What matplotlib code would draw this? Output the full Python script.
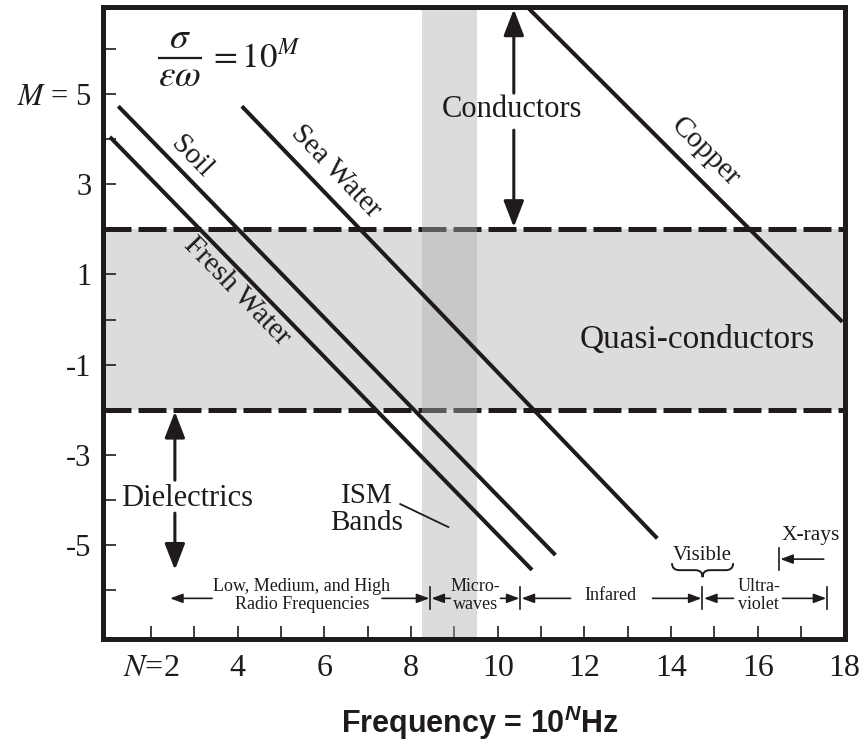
import math
import matplotlib
matplotlib.use("Agg")
import matplotlib.pyplot as plt
from matplotlib.path import Path
from matplotlib.patches import PathPatch

plt.rcParams['font.family'] = ['Liberation Serif', 'DejaVu Serif']
plt.rcParams['mathtext.fontset'] = 'stix'
plt.rcParams['mathtext.rm'] = 'Liberation Sans:bold'
plt.rcParams['mathtext.it'] = 'Liberation Sans:italic:bold'
plt.rcParams['mathtext.bf'] = 'Liberation Sans:bold'
try:
    plt.rcParams['mathtext.bfit'] = 'Liberation Sans:italic:bold'
except KeyError:
    pass

INK = '#1f1b1c'
BAND_GRAY = '#dcdcdc'

# ---------------- data ----------------
materials = ['Fresh Water', 'Soil', 'Sea Water', 'Copper']
n_start = [1.05, 1.245, 4.095, 10.68]
m_start = [4.05, 4.73, 4.73, 6.93]
n_end = [10.79, 11.33, 13.68, 17.95]
m_end = [-5.55, -5.22, -4.85, -0.05]
label_n = [3.99, 2.935, 6.25, 14.79]
label_m = [0.62, 3.61, 3.29, 3.72]

quasi_bounds = [-2.0, 2.0]
ism_band = [8.25, 9.52]

x_limits = [0.88, 18.0]
y_limits = [-7.07, 6.93]
x_ticks = list(range(2, 19))
x_tick_labels = ['$N$=2', '', '4', '', '6', '', '8', '', '10', '', '12', '', '14', '', '16', '', '18']
y_ticks = list(range(-6, 7))
y_tick_labels = ['', '-5', '', '-3', '', '-1', '', '1', '', '3', '', '$M$ = 5', '']

region_names = ['Low, Medium, and High\nRadio Frequencies', 'Micro-\nwaves', 'Infared', 'Ultra-\nviolet']
region_text_n = [5.48, 9.48, 12.6, 16.02]
region_left_tail = [3.41, 8.905, 11.68, 15.44]
region_left_tip = [2.44, 8.47, 10.55, 14.76]
region_right_tail = [7.33, 10.06, 13.57, 16.57]
region_right_tip = [8.42, 10.50, 14.70, 17.58]
region_bars = [8.44, 10.52, 14.72, 17.60]
region_m = -6.18
region_text_m = -6.12

# ---------------- figure ----------------
fig = plt.figure(figsize=(8.64, 7.47), dpi=100)
ax = fig.add_axes([102.5 / 864, 1 - 638.5 / 747, (844.5 - 102.5) / 864, (638.5 - 7) / 747])
ax.set_xlim(*x_limits)
ax.set_ylim(*y_limits)

# quasi-conductor band
ax.axhspan(quasi_bounds[0], quasi_bounds[1], color=BAND_GRAY, lw=0, zorder=1)
for b in quasi_bounds:
    ax.axhline(b, color=INK, lw=3.6, ls=(0, (5.6, 1.4)), zorder=2)
# ISM vertical band (semi-transparent)
ax.axvspan(ism_band[0], ism_band[1], color='#aeaeae', alpha=0.43, lw=0, zorder=3)

# material lines and labels
for name, n0, m0, n1, m1, ln, lm in zip(materials, n_start, m_start, n_end, m_end, label_n, label_m):
    ax.plot([n0, n1], [m0, m1], color=INK, lw=2.9, solid_capstyle='butt', zorder=4)
    p0 = ax.transData.transform((n0, m0))
    p1 = ax.transData.transform((n1, m1))
    ang = math.degrees(math.atan2(p1[1] - p0[1], p1[0] - p0[0]))
    ax.text(ln, lm, name, rotation=ang, rotation_mode='anchor', ha='center', va='center',
            fontsize=21, color=INK, zorder=6)


def arrow(tail, tip, lw, hl, hw):
    ax.annotate('', xy=tip, xytext=tail,
                arrowprops=dict(arrowstyle=f'-|>,head_length={hl},head_width={hw}', lw=lw,
                                color=INK, shrinkA=0, shrinkB=0, mutation_scale=10),
                annotation_clip=False, zorder=6)


# Conductors
ax.text(10.33, 4.65, 'Conductors', ha='center', va='center', fontsize=22, color=INK, zorder=6)
arrow((10.37, 5.02), (10.37, 6.88), 2.2, 1.6, 0.62)
arrow((10.37, 4.20), (10.37, 2.05), 2.2, 1.6, 0.62)

# Dielectrics
ax.text(2.82, -3.96, 'Dielectrics', ha='center', va='center', fontsize=22, color=INK, zorder=6)
arrow((2.55, -3.56), (2.55, -2.04), 2.2, 1.6, 0.62)
arrow((2.55, -4.29), (2.55, -5.55), 2.2, 1.6, 0.62)

# Quasi-conductors
ax.text(14.6, -0.45, 'Quasi-conductors', ha='center', va='center', fontsize=24, color=INK, zorder=6)

# ISM bands label with leader
ax.text(6.98, -4.2, 'ISM\nBands', ha='center', va='center', fontsize=21, color=INK,
        linespacing=1.05, zorder=6)
ax.plot([7.75, 8.86], [-4.09, -4.60], color=INK, lw=1.3, zorder=6)

# formula: sigma / (epsilon omega) = 10^M
ax.text(2.67, 5.85, r'$\sigma$', ha='center', va='bottom', fontsize=27, color=INK, zorder=6)
ax.plot([2.17, 3.17], [5.81, 5.81], color=INK, lw=1.6, solid_capstyle='butt', zorder=6)
ax.text(2.67, 5.77, r'$\varepsilon\omega$', ha='center', va='top', fontsize=27, color=INK, zorder=6)
ax.text(3.32, 5.57, r'$= 10^{M}$', ha='left', va='baseline', fontsize=25, color=INK, zorder=6)

# spectrum regions
for name, tn, lt, lp, rt, rp in zip(region_names, region_text_n, region_left_tail, region_left_tip,
                                     region_right_tail, region_right_tip):
    ax.text(tn, region_text_m, name, ha='center', va='center', fontsize=13, color=INK,
            linespacing=1.05, zorder=6)
    arrow((lt, region_m), (lp, region_m), 1.2, 0.75, 0.28)
    arrow((rt, region_m), (rp, region_m), 1.2, 0.75, 0.28)
for b in region_bars:
    ax.plot([b, b], [-5.93, -6.42], color=INK, lw=1.2, zorder=6)

# Visible with brace
ax.text(14.72, -5.22, 'Visible', ha='center', va='center', fontsize=15, color=INK, zorder=6)
b0, b1, bt, bb = 14.02, 15.43, -5.40, -5.71
bm = (b0 + b1) / 2
bmid = (bt + bb) / 2
q = (b1 - b0) * 0.12
verts = [(b0, bt), (b0, bmid), (b0 + q, bmid), (bm - q, bmid), (bm, bmid), (bm, bb),
         (bm, bmid), (bm + q, bmid), (b1 - q, bmid), (b1, bmid), (b1, bt)]
codes = [Path.MOVETO, Path.CURVE3, Path.CURVE3, Path.LINETO, Path.CURVE3, Path.CURVE3,
         Path.CURVE3, Path.CURVE3, Path.LINETO, Path.CURVE3, Path.CURVE3]
ax.add_patch(PathPatch(Path(verts, codes), fill=False, lw=1.4, color=INK, zorder=6))

# X-rays
ax.text(17.22, -4.79, 'X-rays', ha='center', va='center', fontsize=15.5, color=INK, zorder=6)
arrow((17.52, -5.31), (16.52, -5.31), 1.2, 0.75, 0.28)
ax.plot([16.48, 16.48], [-5.07, -5.55], color=INK, lw=1.2, zorder=6)

# axes styling
for s in ax.spines.values():
    s.set_linewidth(3.6)
    s.set_color(INK)
    s.set_zorder(10)
ax.set_xticks(x_ticks)
ax.set_xticklabels(x_tick_labels)
ax.set_yticks(y_ticks)
ax.set_yticklabels(y_tick_labels)
ax.tick_params(axis='both', direction='in', length=9.5, width=1.2, color=INK, labelcolor=INK)
ax.tick_params(axis='x', labelsize=23, pad=11)
ax.tick_params(axis='y', labelsize=22, pad=8)

fig.text(480 / 864, 1 - 733 / 747, r'Frequency = 10$^{\mathbfit{N}}$Hz', ha='center', va='baseline',
         fontsize=22, fontweight='bold', family=['Liberation Sans', 'DejaVu Sans'],
         math_fontfamily='custom', color=INK)

fig.savefig('out.png', dpi=100)
